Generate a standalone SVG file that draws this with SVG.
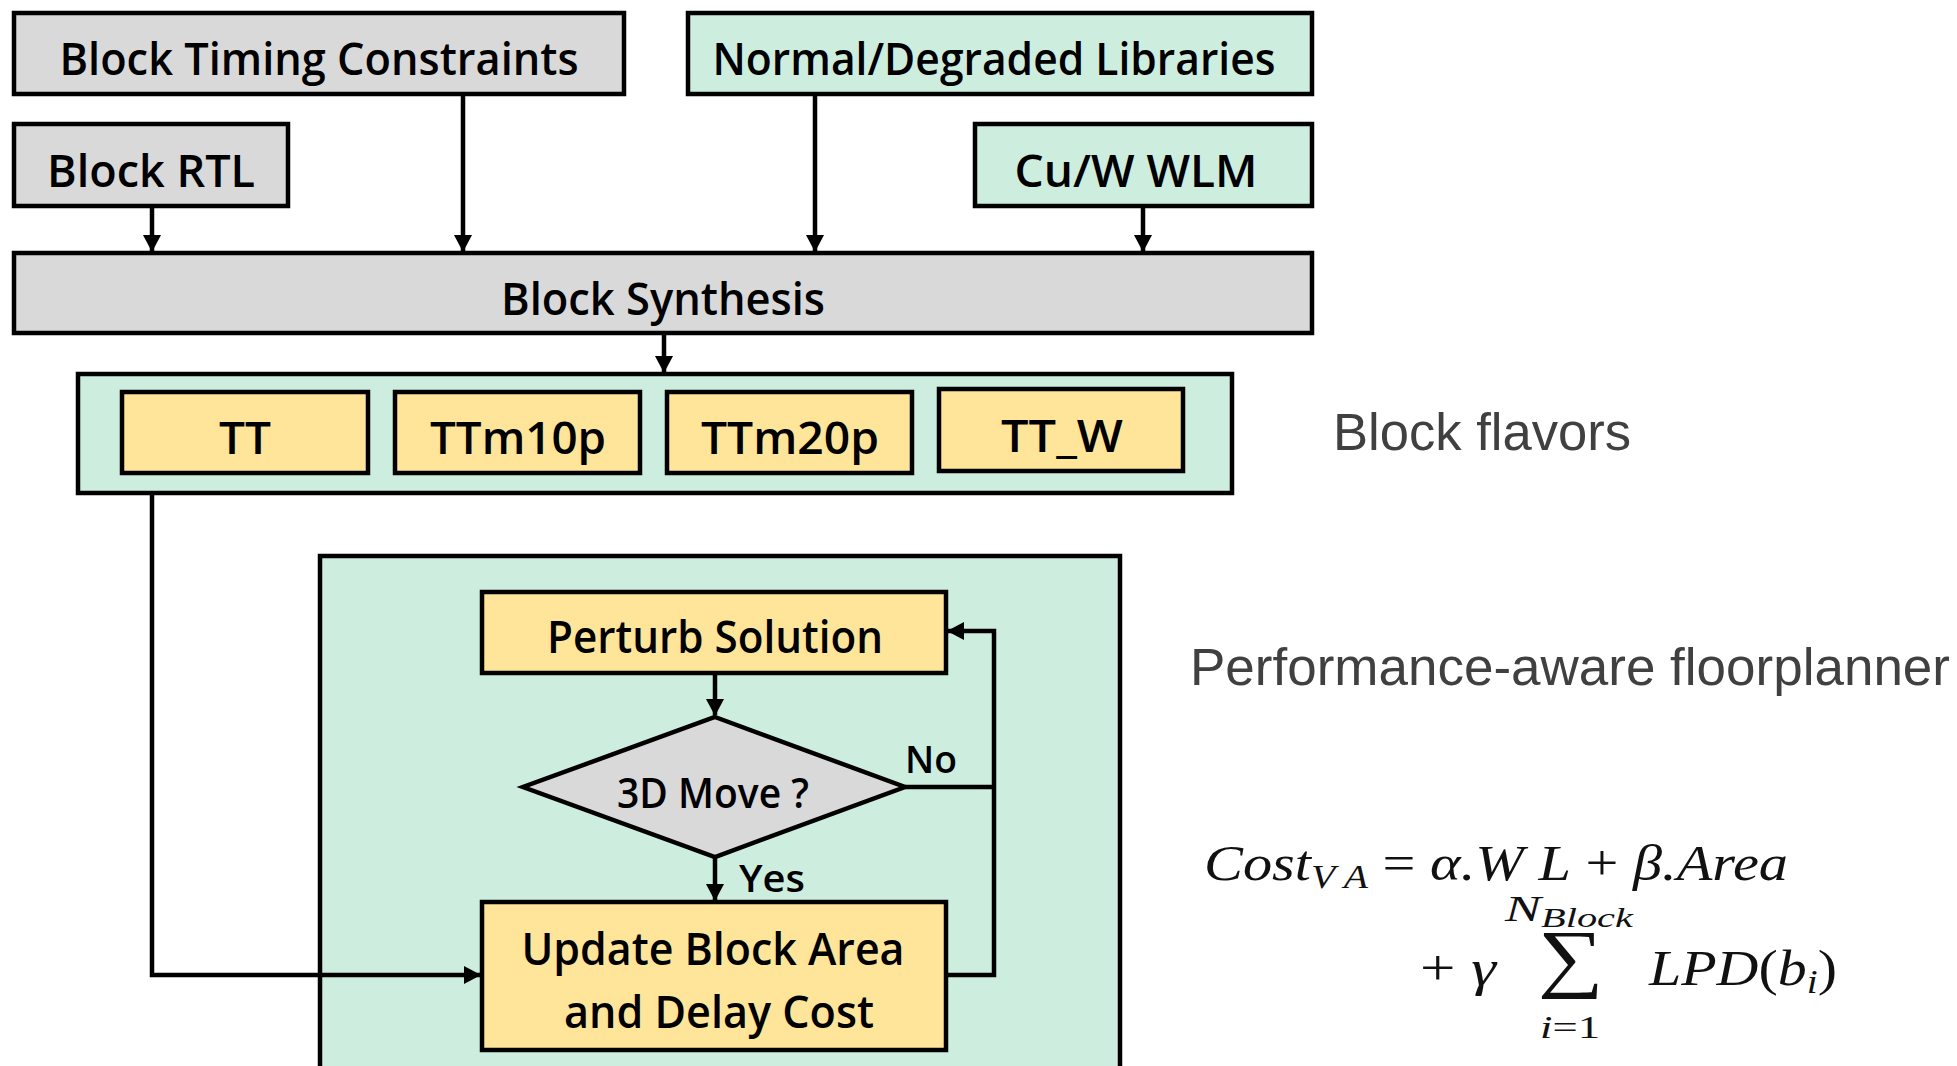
<svg xmlns="http://www.w3.org/2000/svg" width="1957" height="1066" viewBox="0 0 1957 1066">
  <style>
    .box { stroke: #000; stroke-width: 4.5; }
    .gray { fill: #d9d9d9; }
    .mint { fill: #cdeedf; }
    .gold { fill: #ffe599; }
    .lbl { font-family: "Open Sans", "Liberation Sans", sans-serif; font-weight: 600; fill: #000; text-anchor: middle; }
    .note { font-family: "Liberation Sans", Arial, sans-serif; fill: #404040; font-size: 51px; }
    .wire { fill: none; stroke: #000; stroke-width: 4.5; }
    .math { font-family: "Liberation Serif", "Times New Roman", serif; fill: #111; }
  </style>
  <defs>
    <marker id="arrow" markerUnits="userSpaceOnUse" markerWidth="18" markerHeight="18" viewBox="0 0 18 18" refX="16" refY="9" orient="auto">
      <path d="M0,0 L17,9 L0,18 Z" fill="#000"/>
    </marker>
  </defs>

  <rect width="1957" height="1066" fill="#fff"/>

  <!-- inputs -->
  <g id="block-timing-constraints">
    <rect class="box gray" x="14" y="13" width="610" height="81"/>
    <text class="lbl" x="319" y="75" font-size="45" textLength="519" lengthAdjust="spacingAndGlyphs">Block Timing Constraints</text>
  </g>
  <g id="block-rtl">
    <rect class="box gray" x="14" y="124" width="274" height="82"/>
    <text class="lbl" x="151" y="187" font-size="45" textLength="208" lengthAdjust="spacingAndGlyphs">Block RTL</text>
  </g>
  <g id="libraries">
    <rect class="box mint" x="688" y="13" width="624" height="81"/>
    <text class="lbl" x="994" y="75" font-size="45" textLength="563" lengthAdjust="spacingAndGlyphs">Normal/Degraded Libraries</text>
  </g>
  <g id="wlm">
    <rect class="box mint" x="975" y="124" width="337" height="82"/>
    <text class="lbl" x="1136" y="187" font-size="45" textLength="243" lengthAdjust="spacingAndGlyphs">Cu/W WLM</text>
  </g>

  <!-- synthesis -->
  <g id="block-synthesis">
    <rect class="box gray" x="14" y="253" width="1298" height="80"/>
    <text class="lbl" x="663" y="315" font-size="45" textLength="324" lengthAdjust="spacingAndGlyphs">Block Synthesis</text>
  </g>

  <!-- flavors -->
  <g id="block-flavors">
    <rect class="box mint" x="78" y="374" width="1154" height="119"/>
    <g id="flavor-tt">
      <rect class="box gold" x="122" y="392" width="246" height="81"/>
      <text class="lbl" x="245" y="454" font-size="46">TT</text>
    </g>
    <g id="flavor-ttm10p">
      <rect class="box gold" x="395" y="392" width="245" height="81"/>
      <text class="lbl" x="518" y="454" font-size="46" textLength="176" lengthAdjust="spacingAndGlyphs">TTm10p</text>
    </g>
    <g id="flavor-ttm20p">
      <rect class="box gold" x="667" y="392" width="245" height="81"/>
      <text class="lbl" x="790" y="454" font-size="46" textLength="178" lengthAdjust="spacingAndGlyphs">TTm20p</text>
    </g>
    <g id="flavor-tt-w">
      <rect class="box gold" x="939" y="389" width="244" height="82"/>
      <text class="lbl" x="1062" y="452" font-size="46" textLength="122" lengthAdjust="spacingAndGlyphs">TT_W</text>
    </g>
  </g>
  <text id="flavors-note" class="note" x="1333" y="450" textLength="298" lengthAdjust="spacingAndGlyphs">Block flavors</text>

  <!-- floorplanner -->
  <g id="floorplanner">
    <rect class="box mint" x="320" y="556" width="800" height="530"/>
  </g>
  <text id="floorplanner-note" class="note" x="1190" y="685" textLength="760" lengthAdjust="spacingAndGlyphs">Performance-aware floorplanner</text>

  <g id="perturb-solution">
    <rect class="box gold" x="482" y="592" width="464" height="81"/>
    <text class="lbl" x="715" y="653" font-size="46" textLength="336" lengthAdjust="spacingAndGlyphs">Perturb Solution</text>
  </g>
  <g id="move-3d">
    <polygon class="box gray" points="715,717 905,787 715,857 523,787"/>
    <text class="lbl" x="713" y="808" font-size="41" textLength="192" lengthAdjust="spacingAndGlyphs">3D Move ?</text>
  </g>
  <g id="update-cost">
    <rect class="box gold" x="482" y="902" width="464" height="148"/>
    <text class="lbl" x="713" y="965" font-size="46" textLength="383" lengthAdjust="spacingAndGlyphs">Update Block Area</text>
    <text class="lbl" x="719" y="1028" font-size="46" textLength="310" lengthAdjust="spacingAndGlyphs">and Delay Cost</text>
  </g>

  <!-- connectors -->
  <g id="connectors">
    <path class="wire" d="M152,206 V251" marker-end="url(#arrow)"/>
    <path class="wire" d="M463,94 V251" marker-end="url(#arrow)"/>
    <path class="wire" d="M815,94 V251" marker-end="url(#arrow)"/>
    <path class="wire" d="M1143,206 V251" marker-end="url(#arrow)"/>
    <path class="wire" d="M664,333 V372" marker-end="url(#arrow)"/>
    <path class="wire" d="M152,493 V975 H480" marker-end="url(#arrow)"/>
    <path class="wire" d="M715,673 V715" marker-end="url(#arrow)"/>
    <path class="wire" d="M715,857 V900" marker-end="url(#arrow)"/>
    <path class="wire" d="M905,787 H994"/>
    <path class="wire" d="M946,975 H994 V631 H948" marker-end="url(#arrow)"/>
    <text class="lbl" x="931" y="773" font-size="38" textLength="52" lengthAdjust="spacingAndGlyphs">No</text>
    <text class="lbl" x="772" y="892" font-size="38" textLength="66" lengthAdjust="spacingAndGlyphs">Yes</text>
  </g>

  <!-- cost function -->
  <g id="cost-formula" class="math" font-style="italic">
    <text x="1204" y="880" font-size="50" textLength="584" lengthAdjust="spacingAndGlyphs">Cost<tspan font-size="34" dy="8">V A</tspan><tspan font-style="normal" dy="-8"> = </tspan>α.<tspan>W L</tspan><tspan font-style="normal"> + </tspan>β.Area</text>
    <text x="1505" y="921" font-size="36" textLength="128" lengthAdjust="spacingAndGlyphs">N<tspan font-size="27" dy="6">Block</tspan></text>
    <text x="1420" y="985" font-size="50" textLength="76" lengthAdjust="spacingAndGlyphs"><tspan font-style="normal">+ </tspan>γ</text>
    <text x="1538" y="983" font-size="76" font-style="normal" textLength="66" lengthAdjust="spacingAndGlyphs">∑</text>
    <text x="1649" y="985" font-size="50" textLength="188" lengthAdjust="spacingAndGlyphs">LPD<tspan font-style="normal">(</tspan>b<tspan font-size="34" dy="8">i</tspan><tspan font-style="normal" dy="-8">)</tspan></text>
    <text x="1540" y="1038" font-size="32" textLength="60" lengthAdjust="spacingAndGlyphs">i<tspan font-style="normal">=1</tspan></text>
  </g>
</svg>
